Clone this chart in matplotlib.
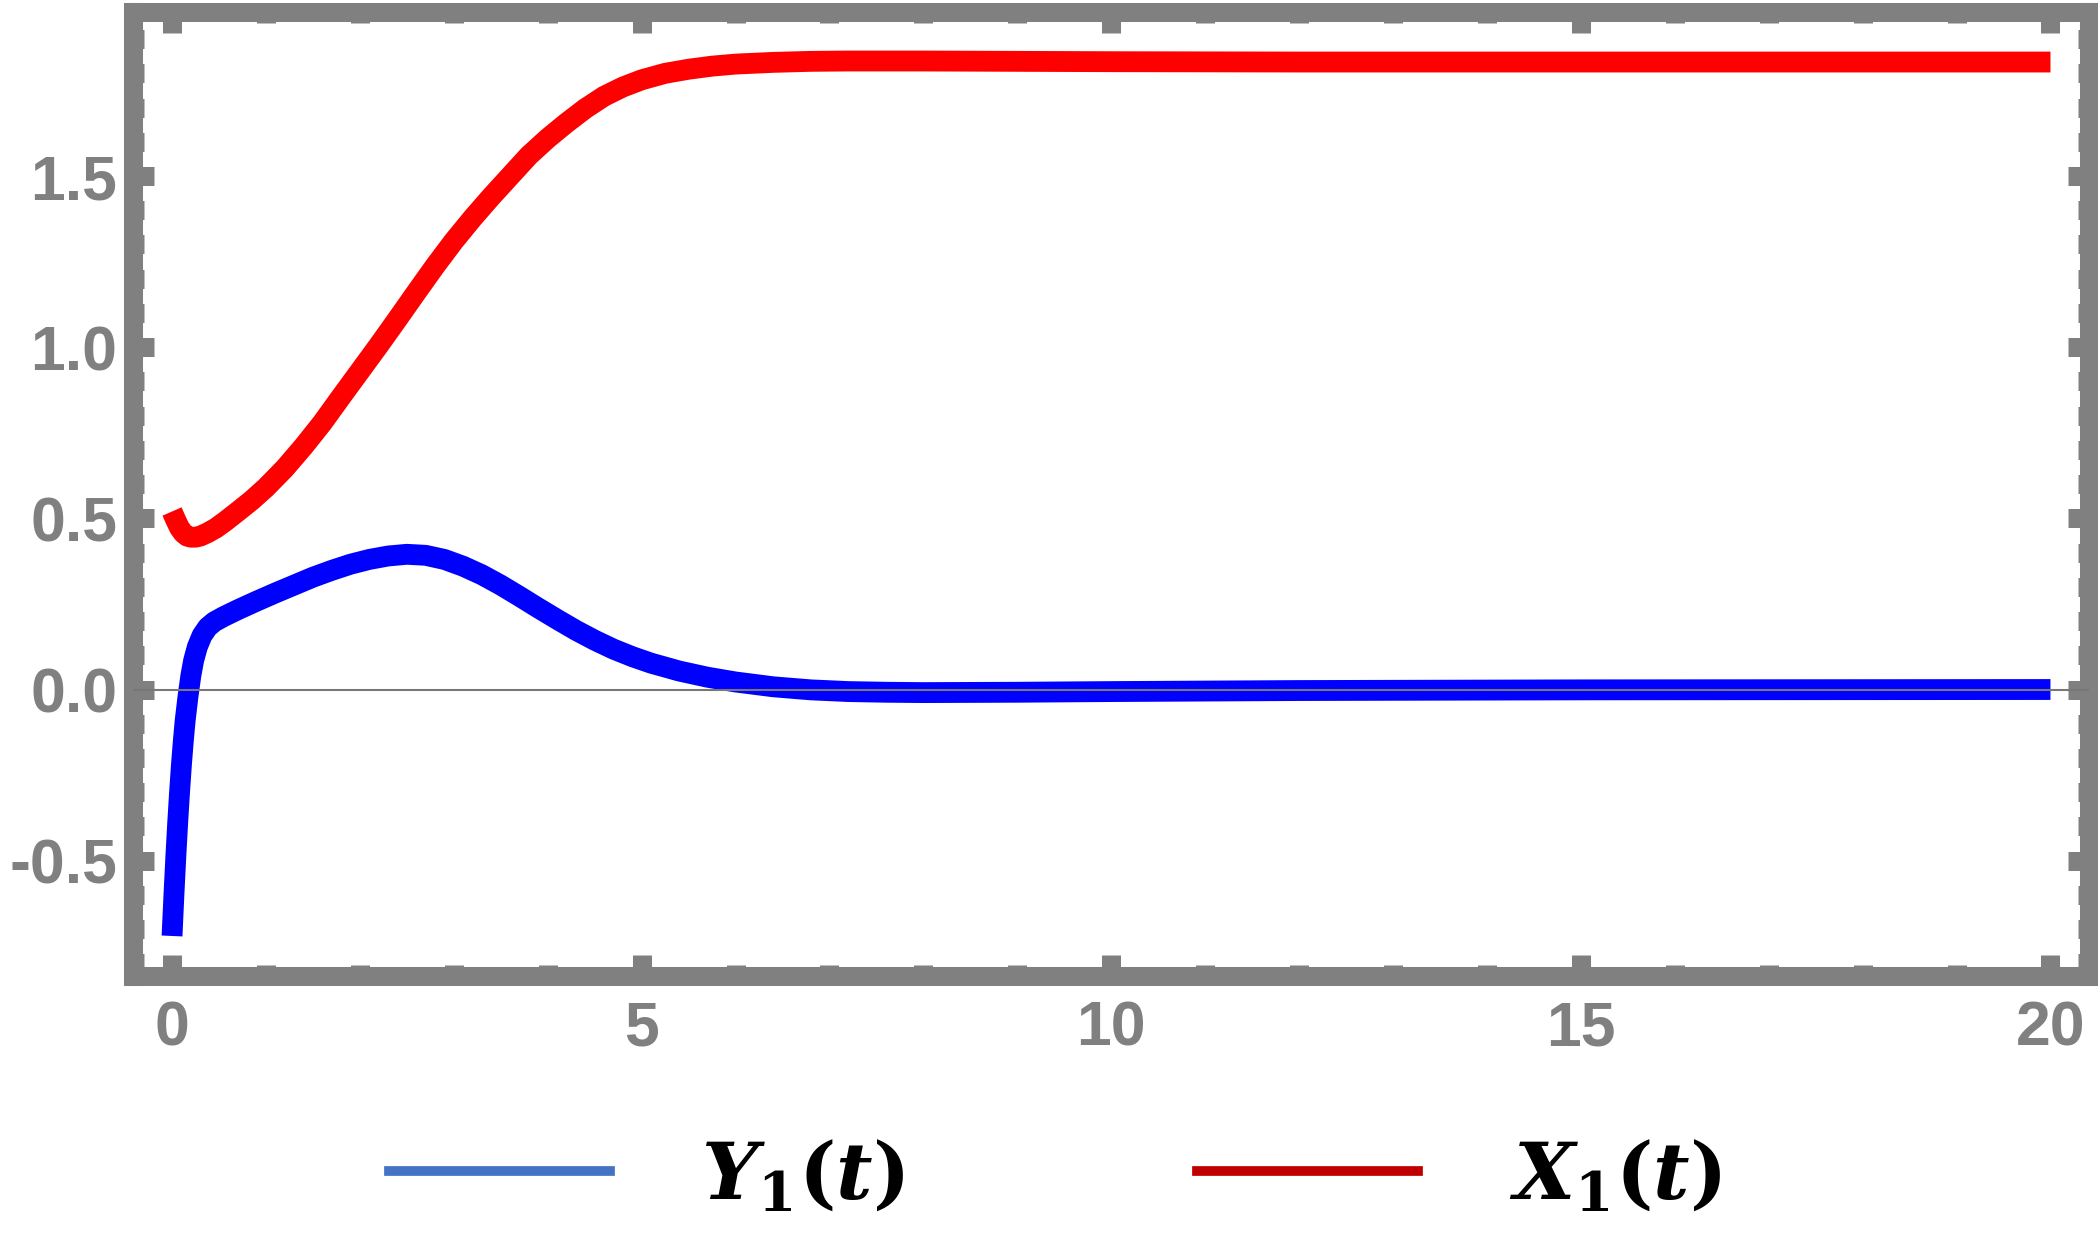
import matplotlib
matplotlib.use("Agg")
import matplotlib.pyplot as plt
import matplotlib.ticker as ticker
from matplotlib.lines import Line2D

# Y1(t)
t_y = [0, 0.02, 0.04, 0.06, 0.08, 0.1, 0.12, 0.14, 0.17, 0.2, 0.23, 0.27,
       0.32, 0.38, 0.45, 0.55, 0.7, 0.9, 1.1, 1.3, 1.5, 1.7, 1.9, 2.1, 2.3,
       2.5, 2.7, 2.9, 3.1, 3.3, 3.5, 3.7, 3.9, 4.1, 4.3, 4.5, 4.7, 4.9, 5.1,
       5.4, 5.7, 6.0, 6.4, 6.8, 7.2, 7.6, 8.0, 9, 10, 12, 15, 20]
y1 = [-0.72, -0.60, -0.49, -0.39, -0.30, -0.22, -0.15, -0.09, -0.02, 0.04,
      0.085, 0.125, 0.158, 0.182, 0.198, 0.213, 0.233, 0.258, 0.282, 0.305,
      0.328, 0.348, 0.366, 0.38, 0.39, 0.395, 0.392, 0.38, 0.36, 0.335, 0.305,
      0.272, 0.238, 0.205, 0.173, 0.144, 0.118, 0.096, 0.077, 0.054, 0.036,
      0.022, 0.008, -0.001, -0.006, -0.008, -0.009, -0.008, -0.006, -0.003,
      -0.001, 0.0]

# X1(t)
t_x = [0, 0.04, 0.08, 0.12, 0.16, 0.2, 0.25, 0.3, 0.38, 0.47, 0.57, 0.7,
       0.85, 1.0, 1.2, 1.4, 1.6, 1.8, 2.0, 2.2, 2.4, 2.6, 2.8, 3.0, 3.2, 3.4,
       3.6, 3.8, 4.0, 4.2, 4.4, 4.6, 4.8, 5.0, 5.25, 5.5, 5.75, 6.0, 6.4, 6.8,
       7.2, 8, 9, 10, 12, 15, 20]
x1 = [0.52, 0.495, 0.472, 0.457, 0.448, 0.445, 0.445, 0.448, 0.458, 0.472,
      0.492, 0.52, 0.553, 0.59, 0.646, 0.71, 0.779, 0.855, 0.93, 1.005, 1.082,
      1.16, 1.237, 1.31, 1.377, 1.44, 1.50, 1.56, 1.61, 1.655, 1.697, 1.733,
      1.76, 1.781, 1.80, 1.812, 1.821, 1.827, 1.832, 1.835, 1.836, 1.836,
      1.835, 1.834, 1.833, 1.833, 1.833]

labels = [r"$Y_1(t)$", r"$X_1(t)$"]
x_ticks = [0, 5, 10, 15, 20]
y_ticks = [-0.5, 0.0, 0.5, 1.0, 1.5]

gray = "#808080"

plt.rcParams["font.family"] = "Liberation Sans"
plt.rcParams["mathtext.fontset"] = "custom"
plt.rcParams["mathtext.it"] = "DejaVu Serif:italic:bold"
plt.rcParams["mathtext.rm"] = "DejaVu Serif:bold"
plt.rcParams["mathtext.bf"] = "DejaVu Serif:bold"

fig = plt.figure(figsize=(20.98, 12.56), dpi=100)
ax = fig.add_axes([0.0632, 0.2229, 0.9957 - 0.0632, 0.9904 - 0.2229])

ax.plot(t_y, y1, color="#0000FF", lw=15, solid_capstyle="butt", solid_joinstyle="round")
ax.plot(t_x, x1, color="#FF0000", lw=15, solid_capstyle="butt", solid_joinstyle="round")
ax.axhline(0, color="#777777", lw=1.5, zorder=3)

ax.set_xlim(-0.42, 20.41)
ax.set_ylim(-0.837, 1.979)

ax.set_xticks(x_ticks)
ax.set_yticks(y_ticks)
ax.xaxis.set_minor_locator(ticker.MultipleLocator(1))
ax.yaxis.set_minor_locator(ticker.MultipleLocator(0.1))
ax.xaxis.set_major_formatter(ticker.FuncFormatter(lambda v, _: f"{v:g}"))
ax.yaxis.set_major_formatter(ticker.FuncFormatter(lambda v, _: f"{v:.1f}"))

for s in ax.spines.values():
    s.set_linewidth(13.7)
    s.set_color(gray)

ax.tick_params(which="both", direction="in", top=True, right=True,
               color=gray, width=13.7)
ax.tick_params(which="major", length=14.8)
ax.tick_params(which="minor", length=8.0)
ax.tick_params(axis="y", which="major", pad=11)
ax.tick_params(axis="x", which="major", pad=17)
for lab in ax.get_xticklabels() + ax.get_yticklabels():
    lab.set_fontsize(45)
    lab.set_fontweight("bold")
    lab.set_color(gray)

handles = [Line2D([], [], color="#4472C4", lw=7),
           Line2D([], [], color="#C00000", lw=7)]
fig.legend(handles, labels, loc="center", bbox_to_anchor=(0.503, 0.062),
           ncol=2, frameon=False, fontsize=57, handlelength=2.79,
           handletextpad=1.15, columnspacing=3.7)

fig.savefig("out.png", dpi=100)
